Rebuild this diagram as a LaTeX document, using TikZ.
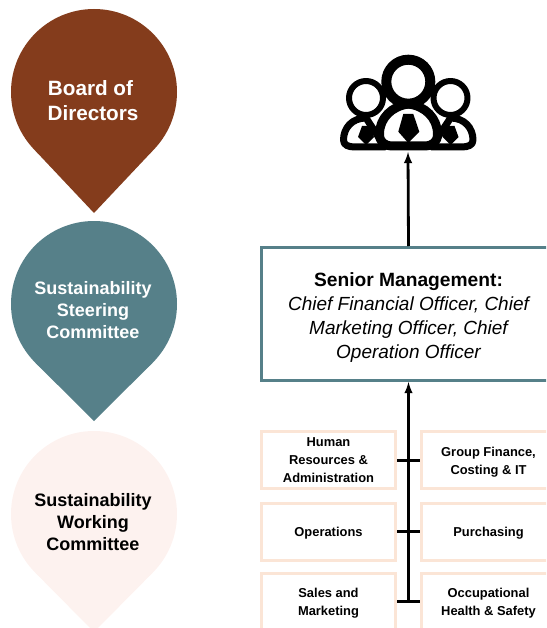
\documentclass[tikz,border=0pt]{standalone}
\usepackage{fontspec}
\setmainfont{Liberation Sans}
\usetikzlibrary{arrows.meta}
\definecolor{pinbrown}{HTML}{843C1C}
\definecolor{pinteal}{HTML}{568089}
\definecolor{pinpink}{HTML}{FDF2EF}
\definecolor{boxpeach}{HTML}{FBE5D6}
\tikzset{
  pintext/.style={align=center,font=\bfseries\fontsize{18}{22}\selectfont},
  seniorbox/.style={draw=pinteal,line width=3pt,minimum width=294pt,minimum height=133pt,align=center,inner sep=0pt,text height=92pt,font=\fontsize{19}{24}\selectfont},
  deptbox/.style={draw=boxpeach,line width=3pt,minimum width=134pt,minimum height=57pt,align=center,inner sep=0pt,font=\bfseries\fontsize{12.9}{18}\selectfont},
  link/.style={line width=2.8pt,black}
}
\begin{document}
\begin{tikzpicture}[x=1pt,y=-1pt]
\clip (0,0) rectangle (546,628);

%pins
\foreach \cy/\tip/\col in {92/121/pinbrown,304/117/pinteal,514/118/pinpink}{
  \fill[\col] (94,\cy) circle (83);
  \fill[\col] (35.3,\cy+58.7) -- (94,\cy+\tip) -- (152.7,\cy+58.7) -- cycle;
}
\node[pintext,text=white,font=\bfseries\fontsize{20.7}{25}\selectfont] (board) at (93,101) {Board of\hspace*{5pt}\\Directors};
\node[pintext,text=white] (steering) at (93,310) {Sustainability\\Steering\\Committee};
\node[pintext,text=black] (working) at (93,522) {Sustainability\\Working\\Committee};

%people
\begin{scope}[line width=7pt,fill=white,line join=round]
\foreach \hx/\sx in {366/1,450.5/-1}{
  \filldraw (\hx,118) .. controls (\hx-14*\sx,118) and (\hx-22.5*\sx,128) .. (\hx-22.5*\sx,140)
    .. controls (\hx-22.5*\sx,145) and (\hx-18*\sx,147) .. (\hx-11*\sx,147) -- (\hx+19*\sx,147) -- cycle;
  \fill[black] (\hx-4,126) -- (\hx+4,126) -- (\hx+8,137) -- (\hx,145) -- (\hx-8,137) -- cycle;
  \filldraw[line width=6pt] (\hx,98) circle (17);
}
\filldraw[line width=9pt] (408.5,104) .. controls (392,106) and (379.5,118) .. (379.5,134)
  .. controls (379.5,142) and (384,145.5) .. (392,146) -- (425,146)
  .. controls (433,145.5) and (437.5,142) .. (437.5,134) .. controls (437.5,118) and (425,106) .. (408.5,104) -- cycle;
\fill[black] (403.3,114) -- (413.3,114) -- (419.3,131.7) -- (408.3,143) -- (398.3,131.7) -- cycle;
\filldraw[line width=10pt] (408.3,81.7) circle (22);
\end{scope}
\coordinate (people) at (408,152);

%boxes
\node[seniorbox] (senior) at (408.5,314) {{\bfseries\fontsize{19.2}{24}\selectfont Senior Management:}\\
  \itshape Chief Financial Officer, Chief\\\itshape Marketing Officer, Chief\\\itshape Operation Officer};
\node[deptbox] (hr) at (328.5,460.2) {Human\\Resources \&\\Administration};
\node[deptbox,text height=31pt] (finance) at (488.5,460.2) {Group Finance,\\Costing \& IT};
\node[deptbox,text height=13pt] (operations) at (328.5,531.7) {Operations};
\node[deptbox,text height=13pt] (purchasing) at (488.5,531.7) {Purchasing};
\node[deptbox,text height=31pt] (sales) at (328.5,601.7) {Sales and\\Marketing};
\node[deptbox,text height=31pt] (safety) at (488.5,601.7) {Occupational\\Health \& Safety};

%arrows
\coordinate (trunk) at (408.5,601.7);
\draw[link,-latex] (senior.north) -- (people);
\draw[link,-latex] (trunk) -- (trunk |- senior.south);
\draw[link] (hr.east) -- (finance.west);
\draw[link] (operations.east) -- (purchasing.west);
\draw[link] (sales.east) -- (safety.west);
\end{tikzpicture}
\end{document}
